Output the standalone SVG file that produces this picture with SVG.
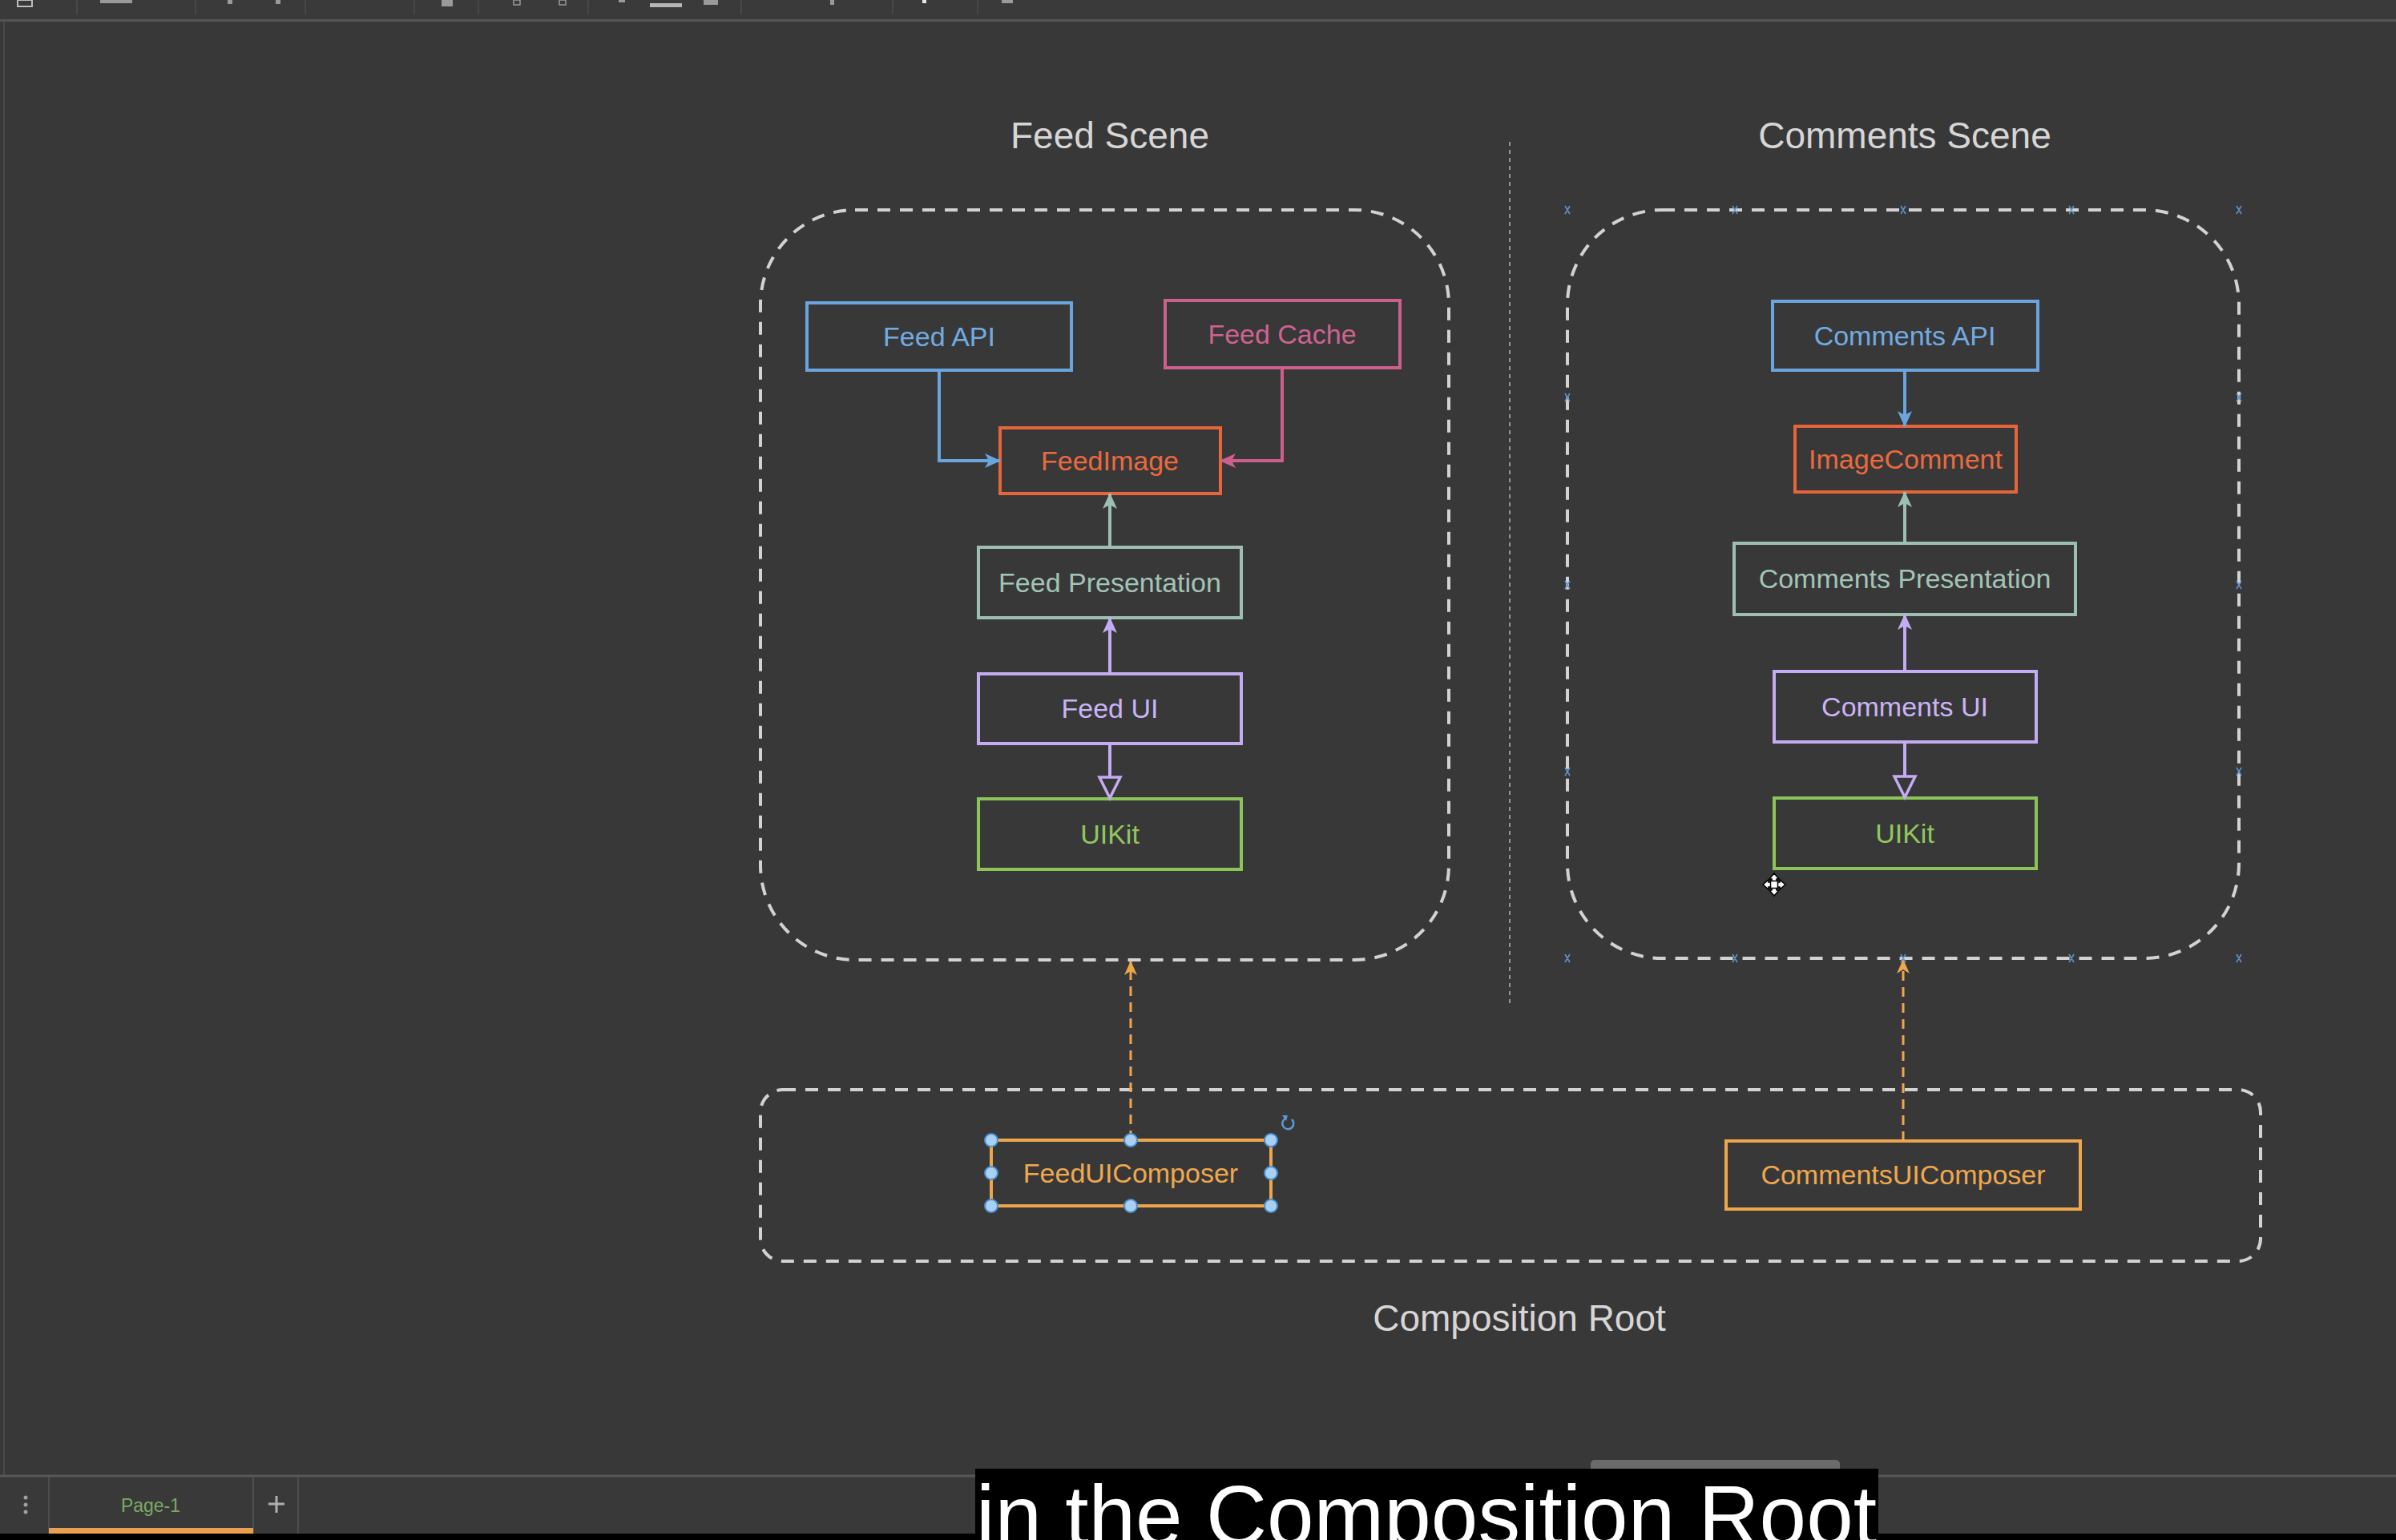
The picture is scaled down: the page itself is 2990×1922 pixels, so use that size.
<svg xmlns="http://www.w3.org/2000/svg" width="2990" height="1922" viewBox="0 0 2990 1922">
<style>
  .node rect { fill: none; stroke-width: 4; }
  .label { font-family: "Liberation Sans", Arial, Helvetica, sans-serif; font-size: 34px; text-anchor: middle; }
  .title { font-family: "Liberation Sans", Arial, Helvetica, sans-serif; font-size: 46px; fill: #d6d6d6; text-anchor: middle; }
  .container { fill: none; stroke: #d2d2d2; stroke-width: 4; stroke-dasharray: 16 12; }
  .conn { fill: none; stroke-width: 4; }
  .dashed { fill: none; stroke: #eea64c; stroke-width: 3; stroke-dasharray: 12 8; }
  .blue { stroke: #6aa5de; } .tblue { fill: #72abe2; }
  .pink { stroke: #cc5f8d; } .tpink { fill: #d0628f; }
  .red { stroke: #e6653a; } .tred { fill: #ea6a3e; }
  .sage { stroke: #9dbfb1; } .tsage { fill: #a3c4b6; }
  .lav { stroke: #c3acf2; } .tlav { fill: #c9b4f5; }
  .green { stroke: #8cc45a; } .tgreen { fill: #90c75e; }
  .orange { stroke: #eea64c; } .torange { fill: #f0a84e; }
  .xmark { stroke: #5f93cc; stroke-width: 1.6; fill: none; }
  .handle { fill: #a8d0f4; stroke: #4a8fd0; stroke-width: 2; }
  .tb { fill: #9a9a9a; }
  .sep { stroke: #4c4c4c; stroke-width: 1.5; }
</style>
<defs>
  <marker id="arr-blue" viewBox="0 0 20 18" markerUnits="userSpaceOnUse" markerWidth="20" markerHeight="18" refX="19" refY="9" orient="auto"><path d="M0,0 L20,9 L0,18 L5,9 Z" fill="#6aa5de"/></marker>
  <marker id="arr-pink" viewBox="0 0 20 18" markerUnits="userSpaceOnUse" markerWidth="20" markerHeight="18" refX="19" refY="9" orient="auto"><path d="M0,0 L20,9 L0,18 L5,9 Z" fill="#cc5f8d"/></marker>
  <marker id="arr-sage" viewBox="0 0 20 18" markerUnits="userSpaceOnUse" markerWidth="20" markerHeight="18" refX="19" refY="9" orient="auto"><path d="M0,0 L20,9 L0,18 L5,9 Z" fill="#9dbfb1"/></marker>
  <marker id="arr-lav" viewBox="0 0 20 18" markerUnits="userSpaceOnUse" markerWidth="20" markerHeight="18" refX="19" refY="9" orient="auto"><path d="M0,0 L20,9 L0,18 L5,9 Z" fill="#c3acf2"/></marker>
  <marker id="arr-orange" viewBox="0 0 18 16" markerUnits="userSpaceOnUse" markerWidth="18" markerHeight="16" refX="17" refY="8" orient="auto"><path d="M0,0 L18,8 L0,16 L5,8 Z" fill="#eea64c"/></marker>
  <marker id="tri-lav" viewBox="-3 -3 33 32" markerUnits="userSpaceOnUse" markerWidth="33" markerHeight="32" refX="27" refY="13" orient="auto"><path d="M0,0 L26,13 L0,26 Z" fill="#383838" stroke="#c3acf2" stroke-width="3.5"/></marker>
</defs>

<!-- background -->
<rect x="0" y="0" width="2990" height="1922" fill="#383838"/>

<!-- editor chrome: toolbar -->
<g id="toolbar">
  <rect x="0" y="0" width="2990" height="25" fill="#3a3a3a"/>
  <line x1="0" y1="25.5" x2="2990" y2="25.5" stroke="#545454" stroke-width="3"/>
  <rect x="22" y="0" width="18" height="8" fill="none" stroke="#bcbcbc" stroke-width="2"/>
  <rect class="tb" x="125" y="0" width="40" height="4"/>
  <line class="sep" x1="96" y1="0" x2="96" y2="18"/>
  <line class="sep" x1="244" y1="0" x2="244" y2="18"/>
  <rect class="tb" x="284" y="0" width="6" height="5"/>
  <rect class="tb" x="344" y="0" width="6" height="5"/>
  <line class="sep" x1="381" y1="0" x2="381" y2="18"/>
  <line class="sep" x1="517" y1="0" x2="517" y2="18"/>
  <rect class="tb" x="551" y="0" width="14" height="8"/>
  <line class="sep" x1="597" y1="0" x2="597" y2="18"/>
  <rect x="641" y="0" width="8" height="6" fill="none" stroke="#9a9a9a" stroke-width="1.5"/>
  <rect x="698" y="0" width="8" height="6" fill="none" stroke="#9a9a9a" stroke-width="1.5"/>
  <line class="sep" x1="734" y1="0" x2="734" y2="18"/>
  <rect class="tb" x="772" y="0" width="8" height="3"/>
  <rect x="811" y="4" width="40" height="5" fill="#b5b5b5"/>
  <rect class="tb" x="878" y="0" width="18" height="6"/>
  <line class="sep" x1="925" y1="0" x2="925" y2="18"/>
  <rect class="tb" x="1036" y="0" width="5" height="6"/>
  <line class="sep" x1="1114" y1="0" x2="1114" y2="18"/>
  <rect x="1151" y="0" width="5" height="4" fill="#e8e8e8"/>
  <line class="sep" x1="1220" y1="0" x2="1220" y2="18"/>
  <rect class="tb" x="1250" y="0" width="14" height="4"/>
</g>

<!-- left ruler line -->
<line x1="5" y1="27" x2="5" y2="1842" stroke="#4a4a4a" stroke-width="2"/>

<!-- titles and separators -->
<g id="titles">
  <text class="title" x="1385" y="185">Feed Scene</text>
  <text class="title" x="2377" y="185">Comments Scene</text>
  <text class="title" x="1896" y="1661">Composition Root</text>
</g>
<line id="scene-separator" x1="1884" y1="177" x2="1884" y2="1255" stroke="#b5b5b5" stroke-width="1.5" stroke-dasharray="5 5"/>

<!-- containers -->
<g id="feed-scene"><rect class="container" x="949" y="262" width="859" height="936" rx="118" ry="118"/></g>
<g id="comments-scene"><rect class="container" x="1956" y="262" width="838" height="934" rx="118" ry="118"/></g>
<g id="composition-root"><rect class="container" x="949" y="1360" width="1872" height="214" rx="28" ry="28"/></g>

<!-- Feed nodes -->
<g id="feed-api" class="node"><rect class="blue" x="1007" y="378" width="330" height="84"/><text class="label tblue" x="1172" y="432">Feed API</text></g>
<g id="feed-cache" class="node"><rect class="pink" x="1454" y="375" width="293" height="84"/><text class="label tpink" x="1600" y="429">Feed Cache</text></g>
<g id="feed-image" class="node"><rect class="red" x="1248" y="534" width="275" height="82"/><text class="label tred" x="1385" y="587">FeedImage</text></g>
<g id="feed-presentation" class="node"><rect class="sage" x="1221" y="683" width="328" height="88"/><text class="label tsage" x="1385" y="739">Feed Presentation</text></g>
<g id="feed-ui" class="node"><rect class="lav" x="1221" y="841" width="328" height="87"/><text class="label tlav" x="1385" y="896">Feed UI</text></g>
<g id="feed-uikit" class="node"><rect class="green" x="1221" y="997" width="328" height="88"/><text class="label tgreen" x="1385" y="1053">UIKit</text></g>

<!-- Comments nodes -->
<g id="comments-api" class="node"><rect class="blue" x="2212" y="376" width="331" height="86"/><text class="label tblue" x="2377" y="431">Comments API</text></g>
<g id="image-comment" class="node"><rect class="red" x="2240" y="532" width="276" height="82"/><text class="label tred" x="2378" y="585">ImageComment</text></g>
<g id="comments-presentation" class="node"><rect class="sage" x="2164" y="678" width="426" height="89"/><text class="label tsage" x="2377" y="734">Comments Presentation</text></g>
<g id="comments-ui" class="node"><rect class="lav" x="2214" y="838" width="327" height="88"/><text class="label tlav" x="2377" y="894">Comments UI</text></g>
<g id="comments-uikit" class="node"><rect class="green" x="2214" y="996" width="327" height="88"/><text class="label tgreen" x="2377" y="1052">UIKit</text></g>

<!-- Composers -->
<g id="feed-ui-composer" class="node"><rect class="orange" x="1237" y="1423" width="349" height="82"/><text class="label torange" x="1411" y="1476">FeedUIComposer</text></g>
<g id="comments-ui-composer" class="node"><rect class="orange" x="2154" y="1424" width="442" height="85"/><text class="label torange" x="2375" y="1478">CommentsUIComposer</text></g>

<!-- connectors -->
<g id="connectors">
  <path class="conn blue" d="M1172,462 L1172,575 L1248,575" marker-end="url(#arr-blue)"/>
  <path class="conn pink" d="M1600,459 L1600,575 L1523,575" marker-end="url(#arr-pink)"/>
  <path class="conn sage" d="M1385,683 L1385,616" marker-end="url(#arr-sage)"/>
  <path class="conn lav" d="M1385,841 L1385,771" marker-end="url(#arr-lav)"/>
  <path class="conn lav" d="M1385,928 L1385,997" marker-end="url(#tri-lav)"/>
  <path class="conn blue" d="M2377,462 L2377,532" marker-end="url(#arr-blue)"/>
  <path class="conn sage" d="M2377,678 L2377,614" marker-end="url(#arr-sage)"/>
  <path class="conn lav" d="M2377,838 L2377,767" marker-end="url(#arr-lav)"/>
  <path class="conn lav" d="M2377,926 L2377,996" marker-end="url(#tri-lav)"/>
  <path class="dashed" d="M1411,1423 L1411,1200" marker-end="url(#arr-orange)"/>
  <path class="dashed" d="M2375,1424 L2375,1198" marker-end="url(#arr-orange)"/>
</g>

<!-- selection markers on comments container -->
<g id="comments-selection-markers">
  <path class="xmark" d="M1953,257 l6,10 M1959,257 l-6,10 M2162,257 l6,10 M2168,257 l-6,10 M2372,257 l6,10 M2378,257 l-6,10 M2582,257 l6,10 M2588,257 l-6,10 M2791,257 l6,10 M2797,257 l-6,10"/>
  <path class="xmark" d="M1953,1191 l6,10 M1959,1191 l-6,10 M2162,1191 l6,10 M2168,1191 l-6,10 M2372,1191 l6,10 M2378,1191 l-6,10 M2582,1191 l6,10 M2588,1191 l-6,10 M2791,1191 l6,10 M2797,1191 l-6,10"/>
  <path class="xmark" d="M1953,491 l6,10 M1959,491 l-6,10 M1953,725 l6,10 M1959,725 l-6,10 M1953,958 l6,10 M1959,958 l-6,10"/>
  <path class="xmark" d="M2791,491 l6,10 M2797,491 l-6,10 M2791,725 l6,10 M2797,725 l-6,10 M2791,958 l6,10 M2797,958 l-6,10"/>
</g>

<!-- selection handles on FeedUIComposer -->
<g id="feed-ui-composer-selection">
  <circle class="handle" cx="1237" cy="1423" r="8"/>
  <circle class="handle" cx="1411" cy="1423" r="8"/>
  <circle class="handle" cx="1586" cy="1423" r="8"/>
  <circle class="handle" cx="1237" cy="1464" r="8"/>
  <circle class="handle" cx="1586" cy="1464" r="8"/>
  <circle class="handle" cx="1237" cy="1505" r="8"/>
  <circle class="handle" cx="1411" cy="1505" r="8"/>
  <circle class="handle" cx="1586" cy="1505" r="8"/>
  <path d="M1604,1396 A7,7 0 1 0 1612,1397" fill="none" stroke="#5b9bd5" stroke-width="2.5"/>
  <path d="M1600,1392 L1607,1392 L1605,1399 Z" fill="#5b9bd5"/>
</g>

<!-- move cursor -->
<g id="cursor">
  <path d="M2214,1090 L2220,1097 L2217,1097 L2217,1101 L2221,1101 L2221,1098 L2228,1104 L2221,1110 L2221,1107 L2217,1107 L2217,1111 L2220,1111 L2214,1118 L2208,1111 L2211,1111 L2211,1107 L2207,1107 L2207,1110 L2200,1104 L2207,1098 L2207,1101 L2211,1101 L2211,1097 L2208,1097 Z" fill="#ffffff" stroke="#000000" stroke-width="1.5"/>
  <rect x="2209.5" y="1099.5" width="9" height="9" fill="#ffffff" stroke="#000000" stroke-width="1.5"/>
</g>

<!-- bottom bar -->
<g id="bottom-bar">
  <rect x="0" y="1843" width="2990" height="71" fill="#393939"/>
  <rect x="1985" y="1822" width="311" height="20" rx="5" fill="#6b6b6b"/>
  <line x1="0" y1="1842" x2="2990" y2="1842" stroke="#575757" stroke-width="3"/>
  <line x1="61" y1="1843" x2="61" y2="1914" stroke="#4e4e4e" stroke-width="2"/>
  <line x1="316" y1="1843" x2="316" y2="1914" stroke="#4e4e4e" stroke-width="2"/>
  <line x1="372" y1="1843" x2="372" y2="1914" stroke="#4e4e4e" stroke-width="2"/>
  <rect x="61" y="1907" width="255" height="7" fill="#e8a050"/>
  <text x="188" y="1887" font-family="Liberation Sans, Arial, sans-serif" font-size="23" fill="#7aab62" text-anchor="middle">Page-1</text>
  <circle cx="32" cy="1869" r="2.5" fill="#a0a0a0"/>
  <circle cx="32" cy="1878" r="2.5" fill="#a0a0a0"/>
  <circle cx="32" cy="1887" r="2.5" fill="#a0a0a0"/>
  <path d="M345,1867 L345,1888 M335,1877 L355,1877" stroke="#b0b0b0" stroke-width="3"/>
  <rect x="0" y="1914" width="2990" height="8" fill="#000000"/>
</g>

<!-- caption -->
<g id="caption">
  <rect x="1217" y="1833" width="1127" height="89" fill="#000000"/>
  <text x="1218" y="1928" font-family="Liberation Sans, Arial, Helvetica, sans-serif" font-size="106" fill="#ffffff" textLength="1124" lengthAdjust="spacingAndGlyphs">in the Composition Root</text>
</g>
</svg>
